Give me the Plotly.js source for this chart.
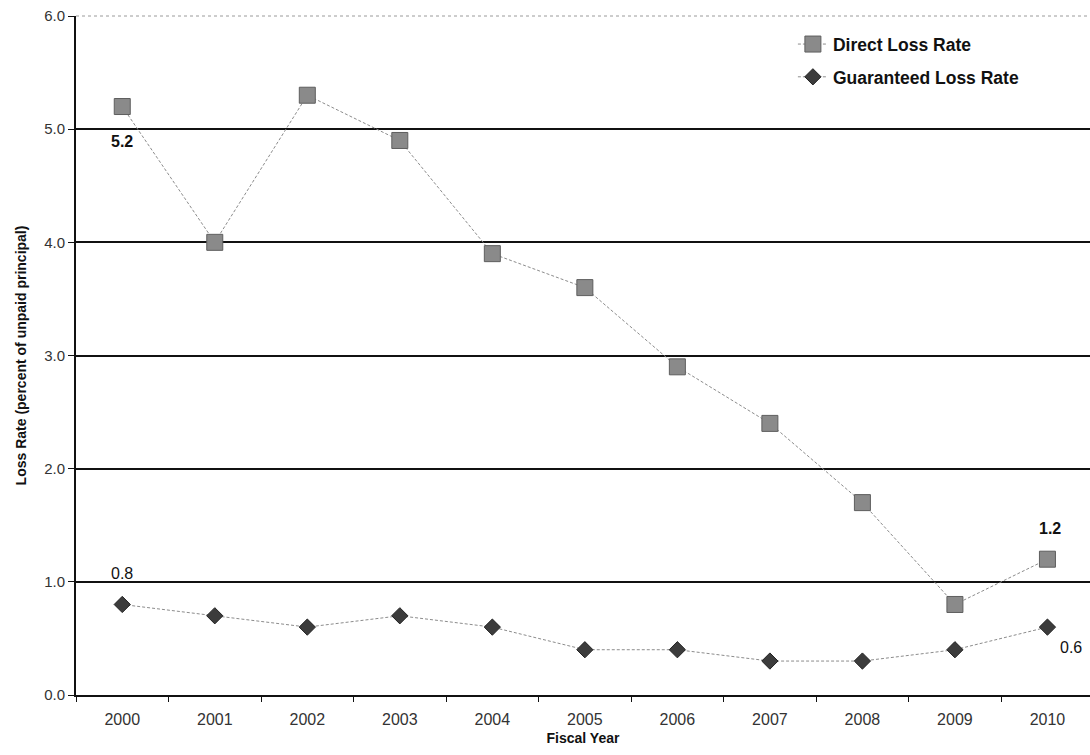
<!DOCTYPE html>
<html>
<head>
<meta charset="utf-8">
<script src="https://cdn.plot.ly/plotly-3.0.1.min.js"></script>
<style>
  html, body { margin: 0; padding: 0; background: #fff; }
  #chart { width: 1090px; height: 755px; }
</style>
</head>
<body>
<div id="chart"></div>
<script>
// Fiscal years and loss rates (percent of unpaid principal)
const years = ['2000', '2001', '2002', '2003', '2004', '2005', '2006', '2007', '2008', '2009', '2010'];
const directLossRate = [5.2, 4.0, 5.3, 4.9, 3.9, 3.6, 2.9, 2.4, 1.7, 0.8, 1.2];
const guaranteedLossRate = [0.8, 0.7, 0.6, 0.7, 0.6, 0.4, 0.4, 0.3, 0.3, 0.4, 0.6];
const yTicks = [0, 1, 2, 3, 4, 5, 6];

const baseFont = 'Liberation Sans, Arial, sans-serif';
const last = years.length - 1;

const traces = [
  {
    name: 'Direct Loss Rate', legendgroup: 'direct',
    x: years, y: directLossRate,
    type: 'scatter', mode: 'lines+markers',
    line: { color: '#8c8c8c', width: 1, dash: '3px,2px' },
    marker: { symbol: 'square', size: 16, color: '#8a8a8a', line: { color: '#5e5e5e', width: 1 } }
  },
  {
    name: 'Guaranteed Loss Rate', legendgroup: 'guaranteed',
    x: years, y: guaranteedLossRate,
    type: 'scatter', mode: 'lines+markers',
    line: { color: '#8c8c8c', width: 1, dash: '3px,2px' },
    marker: { symbol: 'diamond', size: 12.5, color: '#3c3c3c', line: { color: '#222', width: 1 } }
  }
];

// Value labels at the first and last year of each series
// (positioned by category index on the category axis)
function valueLabel(i, values, bold, xshift, yshift) {
  const v = values[i];
  return {
    x: i, y: v, xref: 'x', yref: 'y',
    text: bold ? '<b>' + v.toFixed(1) + '</b>' : v.toFixed(1),
    showarrow: false, xshift: xshift, yshift: yshift,
    font: { family: baseFont, size: 16, color: '#111' }
  };
}

const annotations = [
  valueLabel(0, directLossRate, true, 0, -35),
  valueLabel(last, directLossRate, true, 3, 31),
  valueLabel(0, guaranteedLossRate, false, 0, 31),
  valueLabel(last, guaranteedLossRate, false, 24, -20)
];

const layout = {
  width: 1090, height: 755,
  margin: { l: 76, r: 0, t: 16, b: 60 },
  paper_bgcolor: '#fff', plot_bgcolor: '#fff',
  font: { family: baseFont, color: '#222' },
  showlegend: true,
  legend: {
    x: 0.707, y: 0.985, xanchor: 'left', yanchor: 'top',
    bgcolor: 'rgba(0,0,0,0)', borderwidth: 0,
    traceorder: 'grouped', tracegroupgap: 7,
    font: { family: baseFont, size: 17.5, color: '#111', weight: 'bold' },
    itemwidth: 30
  },
  xaxis: {
    type: 'category',
    range: [-0.5, last + 0.46],
    tickson: 'boundaries',
    ticks: 'outside', ticklen: 5, tickcolor: '#111', tickwidth: 1,
    tickangle: 0,
    ticklabelstandoff: 9,
    showline: true, linecolor: '#111', linewidth: 2,
    showgrid: false, zeroline: false,
    tickfont: { family: baseFont, size: 16, color: '#333' },
    title: { text: '<b>Fiscal Year</b>', font: { family: baseFont, size: 14, color: '#111' }, standoff: 6 },
    fixedrange: true
  },
  yaxis: {
    range: [0, 6],
    tickvals: yTicks,
    ticktext: yTicks.map(v => v.toFixed(1)),
    ticks: 'outside', ticklen: 6, tickcolor: '#111', tickwidth: 1,
    showline: true, linecolor: '#111', linewidth: 2,
    showgrid: true, gridcolor: '#111', gridwidth: 2,
    zeroline: false,
    tickfont: { family: baseFont, size: 15, color: '#333' },
    title: { text: '<b>Loss Rate (percent of unpaid principal)</b>', font: { family: baseFont, size: 14, color: '#111' }, standoff: 14 },
    fixedrange: true
  },
  shapes: [
    { type: 'line', xref: 'paper', yref: 'paper', x0: 0, x1: 1, y0: 1, y1: 1,
      line: { color: '#9a9a9a', width: 1, dash: 'dot' } }
  ],
  annotations: annotations
};

Plotly.newPlot('chart', traces, layout, { staticPlot: true, displayModeBar: false });
</script>
</body>
</html>
